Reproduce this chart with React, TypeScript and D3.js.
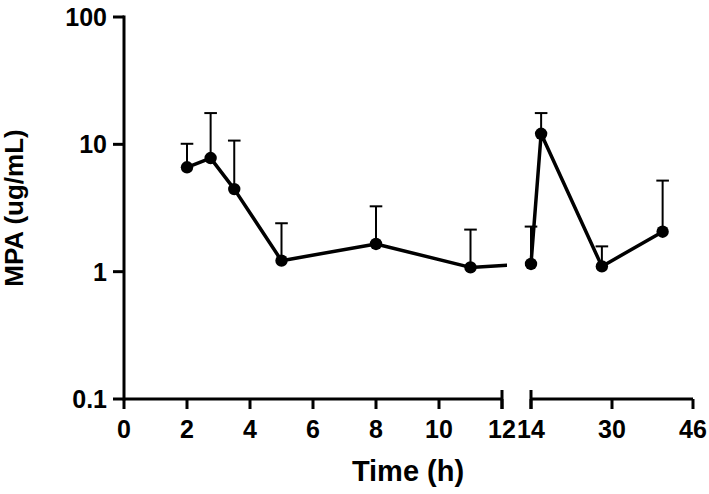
import React from "react";
import * as d3 from "d3";

const times1 = [2, 2.75, 3.5, 5, 8, 11];
const means1 = [6.6, 7.8, 4.45, 1.22, 1.65, 1.08];
const sd1 = [3.5, 9.8, 6.25, 1.18, 1.61, 1.06];

const times2 = [14, 16, 28, 40];
const means2 = [1.15, 12.1, 1.1, 2.06];
const sd2 = [1.11, 5.5, 0.48, 3.13];

const xTicks1 = [0, 2, 4, 6, 8, 10, 12];
const xTicks2 = [14, 30, 46];
const yTicks = [0.1, 1, 10, 100];
const yTickLabels = ["0.1", "1", "10", "100"];

const W = 709;
const H = 494;
const FONT = "Liberation Sans, Arial, Helvetica, sans-serif";

export default function App() {
  const x1 = d3.scaleLinear().domain([0, 12]).range([124, 502]);
  const x2 = d3.scaleLinear().domain([14, 46]).range([531, 693]);
  const y = d3.scaleLog().domain([0.1, 100]).range([399, 17]);
  const axisY = y(0.1);

  const pts = [
    ...times1.map((t, i) => ({ px: x1(t), m: means1[i], sd: sd1[i] })),
    ...times2.map((t, i) => ({ px: x2(t), m: means2[i], sd: sd2[i] })),
  ];
  const line = d3
    .line<{ px: number; m: number }>()
    .x((d) => d.px)
    .y((d) => y(d.m));

  const cap = 6.3;
  return (
    <svg
      width={W}
      height={H}
      style={{ position: "absolute", left: 0, top: 0, background: "#fff" }}
      fontFamily={FONT}
    >
      <defs>
        <clipPath id="brk">
          <rect x={0} y={0} width={507} height={H} />
          <rect x={525} y={0} width={W - 525} height={H} />
        </clipPath>
      </defs>

      {/* error bars */}
      {pts.map((d, i) => (
        <g key={"e" + i} stroke="#000" strokeWidth={2}>
          <line x1={d.px} x2={d.px} y1={y(d.m)} y2={y(d.m + d.sd)} />
          <line x1={d.px - cap} x2={d.px + cap} y1={y(d.m + d.sd)} y2={y(d.m + d.sd)} />
        </g>
      ))}

      {/* line */}
      <path
        d={line(pts) || ""}
        fill="none"
        stroke="#000"
        strokeWidth={3.5}
        strokeLinejoin="round"
        clipPath="url(#brk)"
      />
      {pts.map((d, i) => (
        <circle key={"c" + i} cx={d.px} cy={y(d.m)} r={6.2} fill="#000" />
      ))}

      {/* Y axis */}
      <line x1={x1(0)} x2={x1(0)} y1={y(100) - 1.5} y2={axisY + 1.5} stroke="#000" strokeWidth={3} />
      {yTicks.map((t, i) => (
        <g key={"yt" + i}>
          <line x1={x1(0) - 11} x2={x1(0)} y1={y(t)} y2={y(t)} stroke="#000" strokeWidth={3} />
          <text
            x={107}
            y={y(t)}
            dy="0.36em"
            textAnchor="end"
            fontSize={25}
            fontWeight="bold"
          >
            {yTickLabels[i]}
          </text>
        </g>
      ))}

      {/* X axis segment 1 */}
      <line x1={x1(0)} x2={x1(12)} y1={axisY} y2={axisY} stroke="#000" strokeWidth={3} />
      <line x1={x1(12)} x2={x1(12)} y1={axisY - 9} y2={axisY + 10} stroke="#000" strokeWidth={3} />
      {xTicks1.map((t) => (
        <g key={"xt1" + t}>
          <line x1={x1(t)} x2={x1(t)} y1={axisY} y2={axisY + 10} stroke="#000" strokeWidth={3} />
          <text x={x1(t)} y={438} textAnchor="middle" fontSize={25} fontWeight="bold">
            {t}
          </text>
        </g>
      ))}

      {/* X axis segment 2 */}
      <line x1={x2(14)} x2={x2(46)} y1={axisY} y2={axisY} stroke="#000" strokeWidth={3} />
      <line x1={x2(14)} x2={x2(14)} y1={axisY - 9} y2={axisY + 10} stroke="#000" strokeWidth={3} />
      {xTicks2.map((t) => (
        <g key={"xt2" + t}>
          <line x1={x2(t)} x2={x2(t)} y1={axisY} y2={axisY + 10} stroke="#000" strokeWidth={3} />
          <text x={x2(t)} y={438} textAnchor="middle" fontSize={25} fontWeight="bold">
            {t}
          </text>
        </g>
      ))}

      {/* titles */}
      <text x={408} y={481} textAnchor="middle" fontSize={29} fontWeight="bold">
        Time (h)
      </text>
      <text
        transform={`translate(23, 208) rotate(-90)`}
        textAnchor="middle"
        fontSize={26}
        fontWeight="bold"
      >
        MPA (ug/mL)
      </text>
    </svg>
  );
}
